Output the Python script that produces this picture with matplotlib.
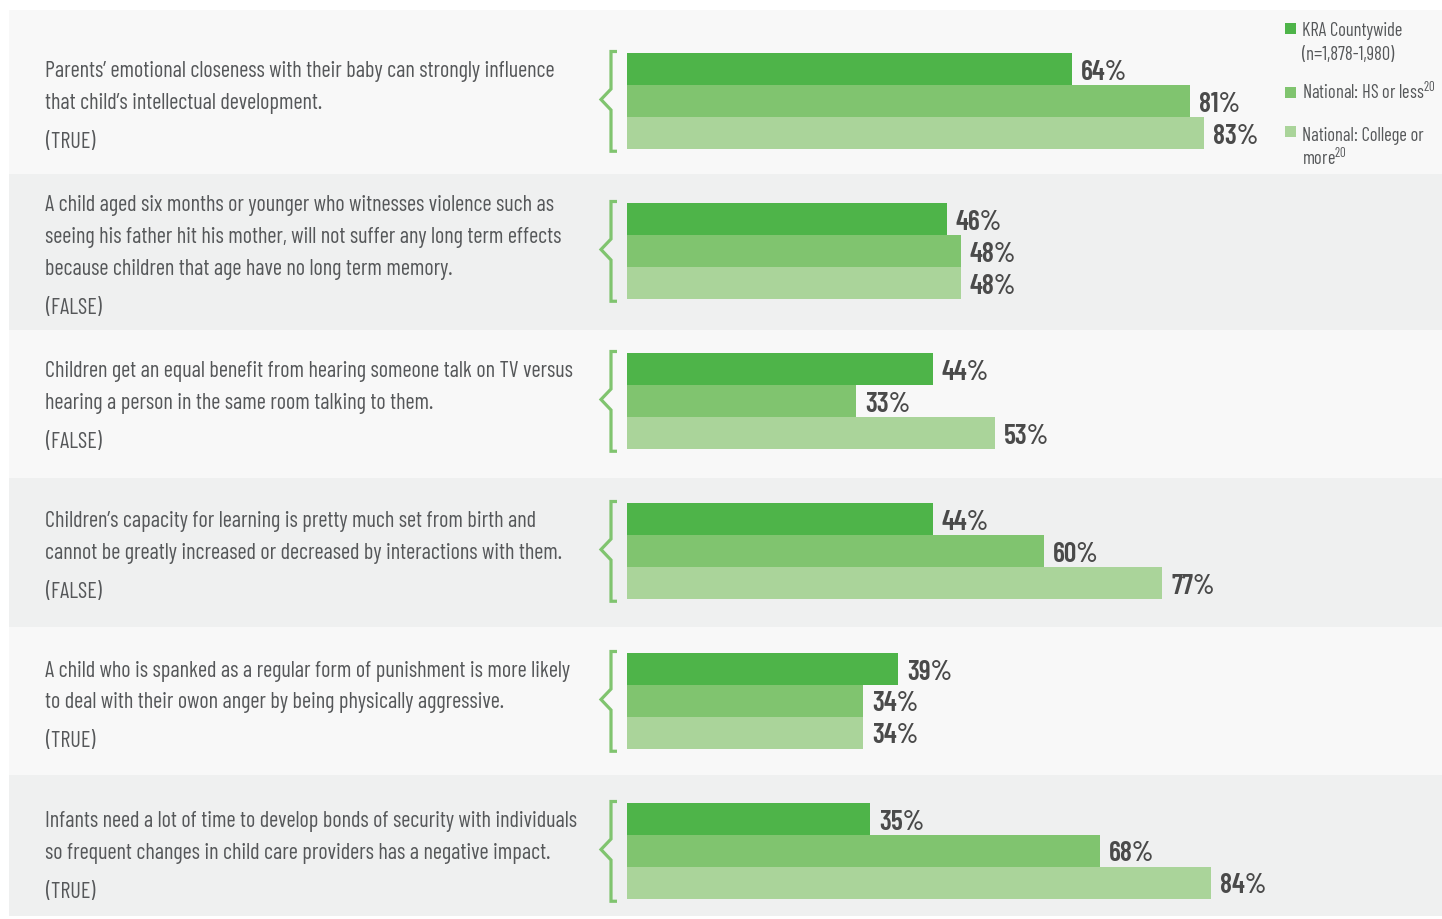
import matplotlib.pyplot as plt
from matplotlib.patches import Rectangle
import matplotlib.transforms as mtransforms

# condensed face close to the original; DejaVu as fallback
FONT = ['Barlow Condensed', 'DejaVu Sans']
plt.rcParams['font.family'] = FONT
plt.rcParams['mathtext.default'] = 'regular'

# data
statements = [
    ["Parents’ emotional closeness with their baby can strongly influence",
     "that child’s intellectual development."],
    ["A child aged six months or younger who witnesses violence such as",
     "seeing his father hit his mother, will not suffer any long term effects",
     "because children that age have no long term memory."],
    ["Children get an equal benefit from hearing someone talk on TV versus",
     "hearing a person in the same room talking to them."],
    ["Children’s capacity for learning is pretty much set from birth and",
     "cannot be greatly increased or decreased by interactions with them."],
    ["A child who is spanked as a regular form of punishment is more likely",
     "to deal with their owon anger by being physically aggressive."],
    ["Infants need a lot of time to develop bonds of security with individuals",
     "so frequent changes in child care providers has a negative impact."],
]
answers = ["TRUE", "FALSE", "FALSE", "FALSE", "TRUE", "TRUE"]
kra = [64, 46, 44, 44, 39, 35]
hs_or_less = [81, 48, 33, 60, 34, 68]
college = [83, 48, 53, 77, 34, 84]
series_labels = [["KRA Countywide", "(n=1,878-1,980)"],
                 ["National: HS or less$^{20}$"],
                 ["National: College or", "more$^{20}$"]]
colors = ["#4eb449", "#80c46f", "#aad49a"]

# layout (pixel based)
W, H = 1442, 919
PX = 6.95        # pixels per percent
X0 = 627         # pixel of 0%
ROW = 150        # pixels per row
Y0 = 101         # pixel of first row centre
BAR_H = 32 / ROW
TXT = "#555759"

fig = plt.figure(figsize=(W / 100, H / 100), dpi=100)
fig.patch.set_facecolor("white")
ax = fig.add_axes([0, 0, 1, 1])
ax.set_xlim(-X0 / PX, (W - X0) / PX)
ax.set_ylim((H - Y0) / ROW, -Y0 / ROW)
ax.axis("off")

# row panels
edges = [-0.607, 0.487, 1.527, 2.513, 3.507, 4.493, (916 - Y0) / ROW]
panel_cols = ["#f8f8f8", "#eff0f0"]
for i in range(len(statements)):
    ax.axhspan(edges[i], edges[i + 1], xmin=9 / W, xmax=1,
               color=panel_cols[i % 2], lw=0, zorder=0)

# bars
series = [kra, hs_or_less, college]
offsets = [-BAR_H, 0, BAR_H]
for vals, off, c in zip(series, offsets, colors):
    ys = [i + off for i in range(len(vals))]
    ax.barh(ys, vals, height=BAR_H, color=c, lw=0, zorder=2)
    for y, v in zip(ys, vals):
        ax.text(v + 9 / PX, y + 3 / ROW, f"{v}%", ha="left", va="center",
                fontsize=20, fontweight="semibold", color="#4a4a4a", zorder=3)

# brackets
xv = -16 / PX
xs = -10 / PX
xt = -26 / PX
for i in range(len(statements)):
    top, bot = i - 0.33, i + 0.335
    ax.plot([xs, xv, xv, xt, xv, xv, xs],
            [top, top, i - 0.08, i - 0.01, i + 0.06, bot, bot],
            color="#80c46f", lw=2.3, solid_joinstyle="miter",
            solid_capstyle="butt", zorder=2)

# statement text
trans = mtransforms.blended_transform_factory(ax.transAxes, ax.transData)
LINE = 32 / ROW
GAP = 39 / ROW
for i, (lines, ans) in enumerate(zip(statements, answers)):
    n = len(lines)
    first = i - ((n - 1) * LINE + GAP) / 2 + 5.5 / ROW
    for k, line in enumerate(lines):
        ax.text(45 / W, first + k * LINE, line, transform=trans,
                ha="left", va="center", fontsize=16, color=TXT)
    ax.text(46 / W, first + (n - 1) * LINE + GAP, f"({ans})",
            transform=trans, ha="left", va="center", fontsize=16, color=TXT)

# legend
sq_y = [28.5, 92.5, 131.5]
base_y = [36, 99, 141]
for lab, c, yc, yb in zip(series_labels, colors, sq_y, base_y):
    fig.patches.append(Rectangle((1285 / W, 1 - (yc + 5.5) / H), 11 / W, 11 / H,
                                 transform=fig.transFigure, color=c, lw=0))
    for k, line in enumerate(lab):
        fig.text(1302 / W, 1 - (yb + 24 * k) / H, line, ha="left",
                 va="baseline", fontsize=13.3, color=TXT)

fig.savefig("out.png", dpi=100, facecolor="white")
